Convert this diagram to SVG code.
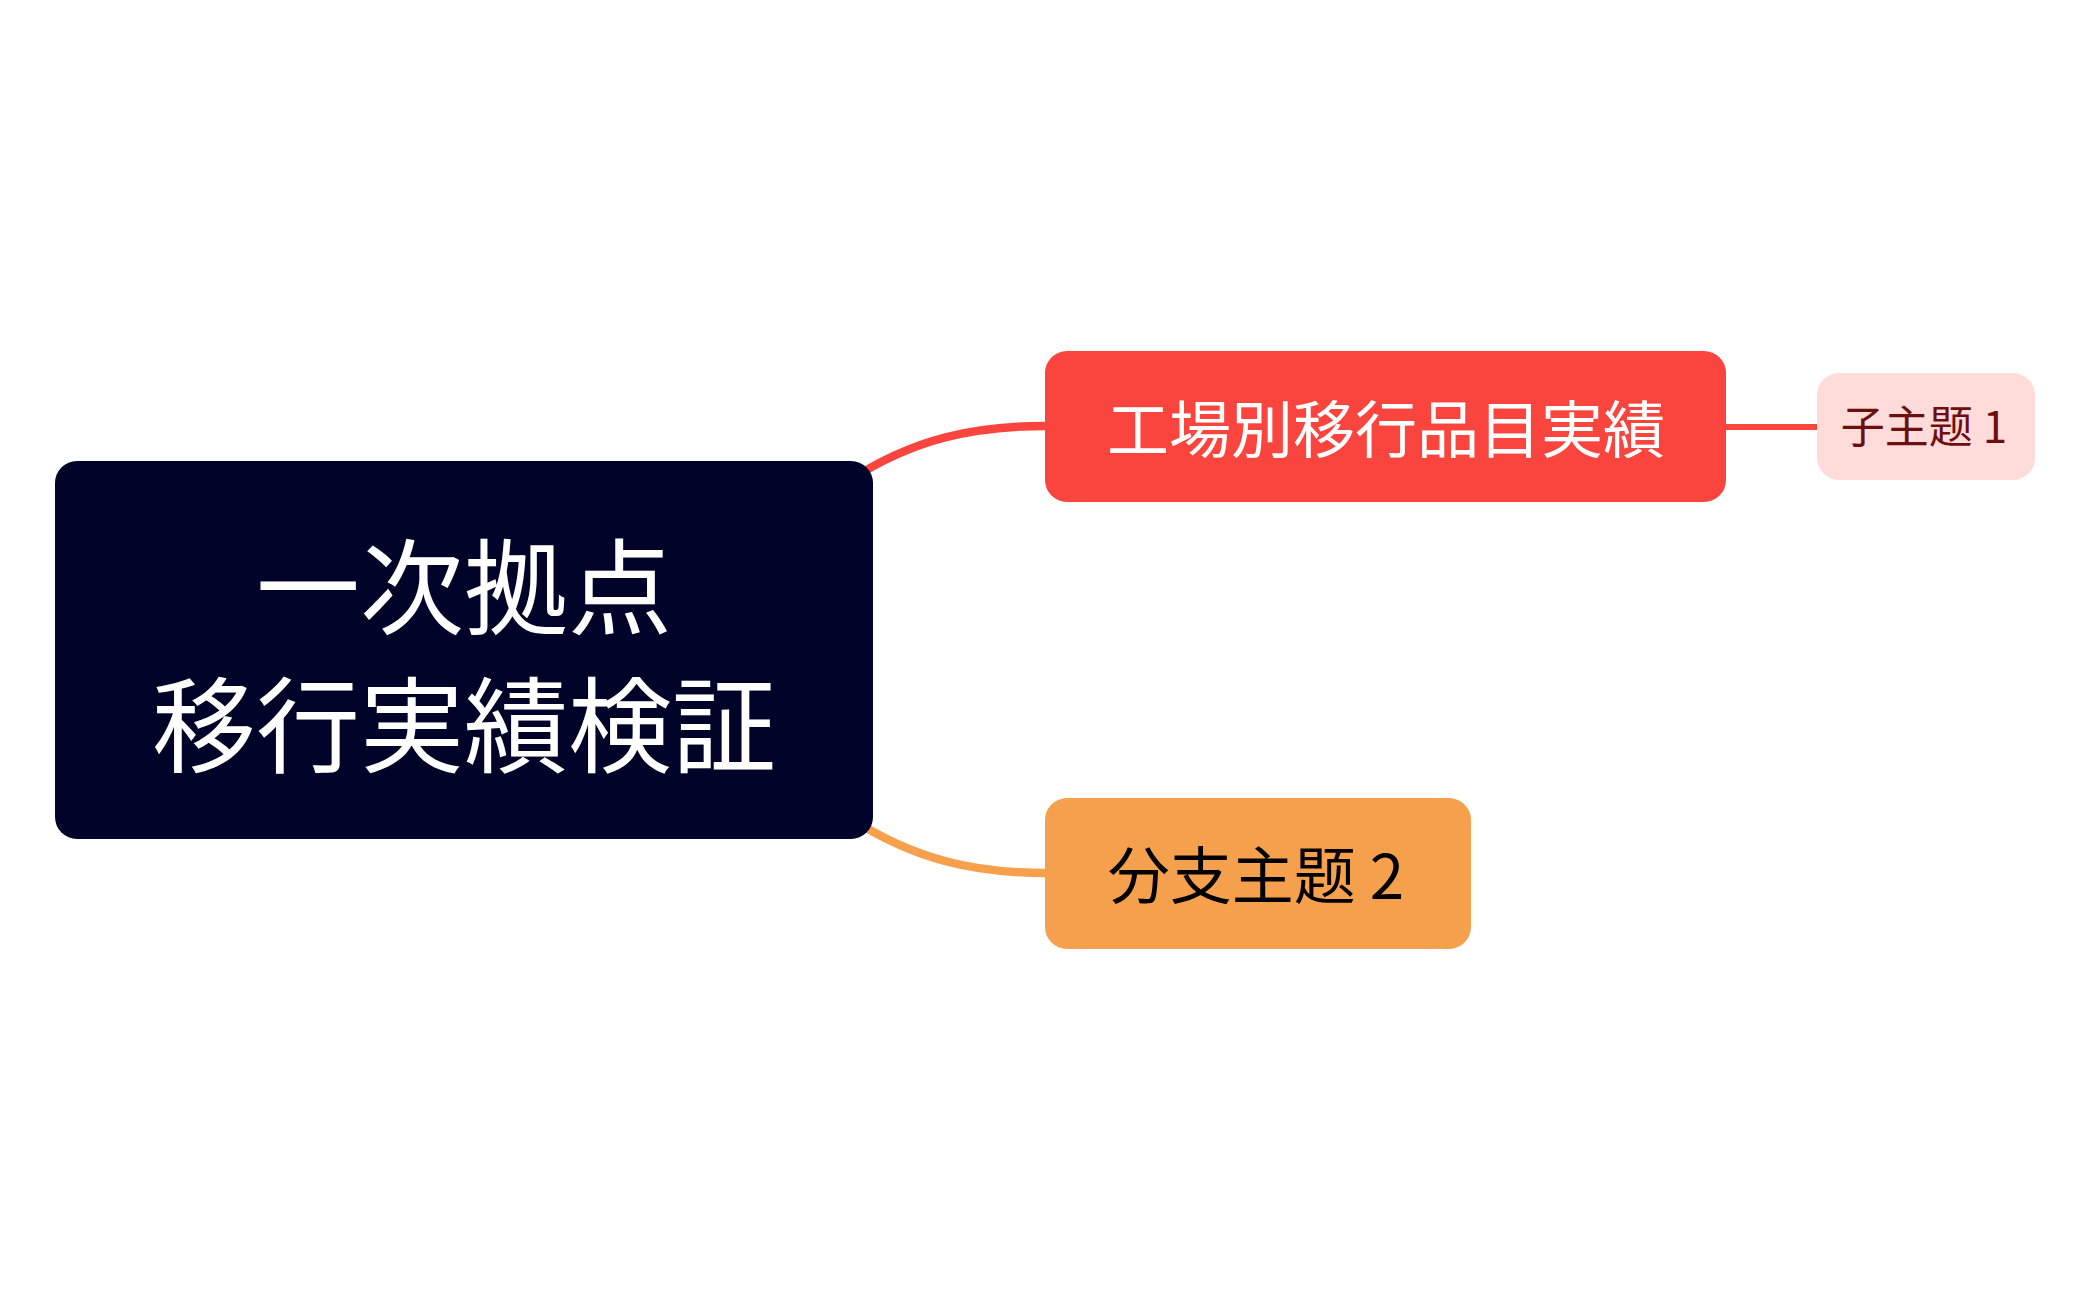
<svg xmlns="http://www.w3.org/2000/svg" width="2091" height="1300" viewBox="0 0 2091 1300">
<style>
text{font-family:"Noto Sans CJK JP","Noto Sans CJK SC",sans-serif;text-anchor:middle}
.conn{fill:none;stroke-width:8.5;stroke-linecap:round}
.thin{fill:none;stroke-width:6}
.main{fill:#ffffff;font-size:104px}
.l1{fill:#ffffff;font-size:62px}
.l1d{fill:#000000;font-size:62px}
.l2{fill:#6b0f0f;font-size:44px}
</style>
<rect width="2091" height="1300" fill="#ffffff"/>
<g id="connectors">
<path class="conn" stroke="#f9453d" d="M 850 480 C 915 438, 975 426, 1046 426"/>
<path class="conn" stroke="#f5a04c" d="M 850 818 C 915 860, 975 873, 1046 873"/>
<path class="thin" stroke="#f9453d" d="M 1724 427 L 1819 427"/>
</g>
<g id="central">
<rect x="55" y="461" width="818" height="378" rx="22" fill="#010328"/>
<text class="main" x="464" y="627">一次拠点</text>
<text class="main" x="464" y="765">移行実績検証</text>
</g>
<g id="branch1">
<rect x="1045" y="351" width="681" height="151" rx="22" fill="#f9453d"/>
<text class="l1" x="1386" y="453">工場別移行品目実績</text>
</g>
<g id="child1">
<rect x="1817" y="373" width="218" height="107" rx="22" fill="#ffdbd9"/>
<text class="l2" x="1924" y="443">子主题 1</text>
</g>
<g id="branch2">
<rect x="1045" y="798" width="426" height="151" rx="22" fill="#f5a04c"/>
<text class="l1d" x="1256" y="899">分支主题 2</text>
</g>
</svg>
